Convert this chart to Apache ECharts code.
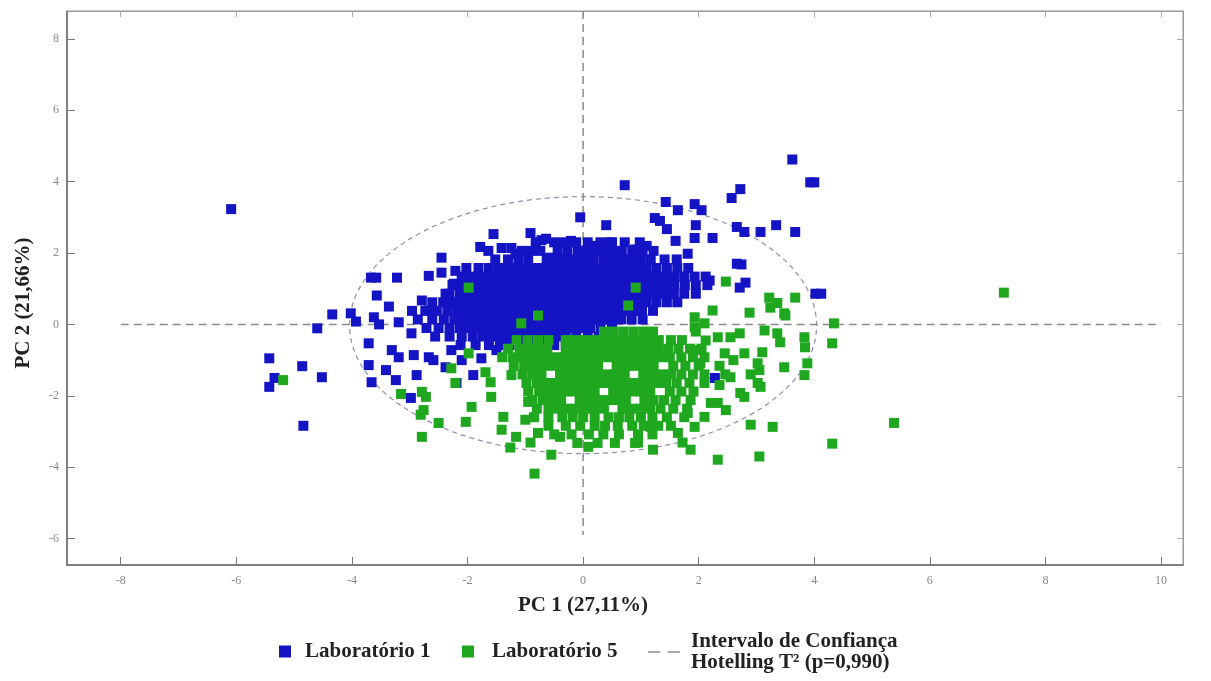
<!DOCTYPE html>
<html>
<head>
<meta charset="utf-8">
<script src="https://cdn.jsdelivr.net/npm/echarts@6/dist/echarts.min.js"></script>
<style>
  html, body { margin: 0; padding: 0; background: #fff; }
  #chart { width: 1211px; height: 681px; }
</style>
</head>
<body>
<div id="chart"></div>
<script>
// tick values
const xTicks = [-8, -6, -4, -2, 0, 2, 4, 6, 8, 10];
const yTicks = [-6, -4, -2, 0, 2, 4, 6, 8];

// Laboratório 1 - isolated points
const blueScatter = [
  [-6.09, 3.23], [-5.43, -0.95], [-5.43, -1.75], [-5.34, -1.5], [-4.86, -1.17], [-4.52, -1.48], [-4.84, -2.84],
  [-4.6, -0.11], [-4.34, 0.28], [-4.02, 0.31], [-3.93, 0.08], [-3.67, 1.31], [-3.58, 1.31], [-3.22, 1.31],
  [-3.57, 0.81], [-3.36, 0.5], [-3.62, 0.2], [-3.53, 0.0], [-3.19, 0.06], [-3.71, -0.53], [-2.97, -0.25],
  [-3.31, -0.72], [-3.19, -0.92], [-2.93, -0.86], [-2.67, -0.92], [-3.71, -1.14], [-3.41, -1.28], [-2.88, -1.42],
  [-3.66, -1.62], [-3.24, -1.56], [-2.98, -2.06], [-2.59, -1.0], [-2.38, -1.2], [-2.28, -0.72], [-2.19, -1.64],
  [-1.9, -1.42], [-2.1, -1.0], [-1.76, -0.95], [-1.5, -0.72], [-1.34, -0.5],
  [-2.45, 1.87], [-2.67, 1.36], [-2.45, 1.45], [-2.21, 1.5], [-2.79, 0.67], [-2.67, 0.39], [-2.38, 0.86], [-2.24, 1.14],
  [-1.55, 2.53], [-0.91, 2.56], [-0.64, 2.4], [-0.72, 2.36], [-1.78, 2.17], [-1.64, 2.06], [-1.41, 2.14],
  [-1.24, 2.14], [-1.17, 1.98], [-0.9, 2.06], [-0.57, 1.87], [-0.21, 2.34], [-0.09, 2.06], [-0.05, 3.0],
  [3.62, 4.62], [3.93, 3.98], [4.0, 3.98], [0.72, 3.9], [2.72, 3.79], [2.57, 3.54], [1.43, 3.43], [1.64, 3.2],
  [1.93, 3.37], [2.05, 3.2], [1.24, 2.98], [1.33, 2.9], [1.95, 2.78], [2.66, 2.73], [2.79, 2.59], [3.07, 2.59],
  [3.34, 2.78], [3.67, 2.59], [0.4, 2.78], [1.45, 2.67], [1.6, 2.34], [1.93, 2.42], [2.24, 2.42], [2.66, 1.7],
  [2.74, 1.68], [2.81, 1.17], [2.71, 1.03], [4.02, 0.86], [4.12, 0.86], [2.19, 1.23], [1.81, 1.98], [0.2, 2.2],
  [0.5, 2.3], [0.9, 2.1], [1.1, 2.2], [2.28, -1.5]
];

// Laboratório 1 - dense core, one list of x per row height
const blueRowY = [2.3, 2.06, 1.82, 1.58, 1.34, 1.1, 0.86, 0.62, 0.38, 0.14, -0.1, -0.34, -0.58];
const blueRowX = [
  [-0.82, -0.5, -0.34, -0.12, 0.08, 0.3, 0.46, 0.72, 0.98],
  [-1.06, -0.74, -0.44, -0.27, 0.0, 0.17, 0.33, 0.5, 0.67, 0.85, 1.03, 1.22],
  [-1.52, -1.3, -1.12, -0.95, -0.63, -0.46, -0.3, -0.14, 0.02, 0.18, 0.35, 0.51, 0.67, 0.83, 1.0, 1.17, 1.41, 1.62],
  [-2.02, -1.81, -1.63, -1.46, -1.3, -1.14, -0.98, -0.82, -0.66, -0.5, -0.34, -0.18, -0.02, 0.14, 0.3, 0.46, 0.62, 0.78, 0.94, 1.1, 1.27, 1.45, 1.63, 1.82],
  [-2.1, -1.94, -1.78, -1.62, -1.46, -1.3, -1.14, -0.98, -0.82, -0.66, -0.5, -0.34, -0.18, -0.02, 0.14, 0.3, 0.46, 0.62, 0.78, 0.94, 1.1, 1.26, 1.42, 1.58, 1.75, 1.93, 2.12],
  [-2.26, -2.1, -1.94, -1.78, -1.62, -1.46, -1.3, -1.14, -0.98, -0.82, -0.66, -0.5, -0.34, -0.18, -0.02, 0.14, 0.3, 0.46, 0.62, 0.78, 0.94, 1.1, 1.26, 1.42, 1.58, 1.76, 1.95, 2.15],
  [-2.31, -2.13, -1.96, -1.8, -1.64, -1.48, -1.32, -1.16, -1.0, -0.84, -0.68, -0.52, -0.36, -0.2, -0.04, 0.12, 0.28, 0.44, 0.6, 0.76, 0.92, 1.08, 1.24, 1.4, 1.57, 1.75, 1.95],
  [-2.61, -2.42, -2.26, -2.1, -1.94, -1.78, -1.62, -1.46, -1.3, -1.14, -0.98, -0.82, -0.66, -0.5, -0.34, -0.18, -0.02, 0.14, 0.3, 0.46, 0.62, 0.78, 0.94, 1.1, 1.27, 1.45, 1.63],
  [-2.96, -2.73, -2.53, -2.35, -2.18, -2.02, -1.86, -1.7, -1.54, -1.38, -1.22, -1.06, -0.9, -0.74, -0.58, -0.42, -0.26, -0.1, 0.06, 0.22, 0.38, 0.54, 0.7, 0.86, 1.02, 1.21],
  [-2.86, -2.61, -2.41, -2.23, -2.06, -1.9, -1.74, -1.58, -1.42, -1.26, -1.1, -0.94, -0.78, -0.62, -0.46, -0.3, -0.14, 0.02, 0.18, 0.34, 0.5, 0.66, 0.84, 1.03],
  [-2.71, -2.5, -2.31, -2.13, -1.96, -1.8, -1.64, -1.48, -1.32, -1.16, -1.0, -0.84, -0.68, -0.52, -0.36, -0.2, -0.04, 0.12, 0.3, 0.5],
  [-2.56, -2.31, -2.1, -1.91, -1.74, -1.58, -1.42, -1.26, -1.1, -0.94, -0.78, -0.62, -0.46, -0.3, -0.12, 0.08, 0.27],
  [-2.12, -1.86, -1.63, -1.44, -1.28, -1.1, -0.9, -0.7, -0.5, -0.3]
];

// Laboratório 5 - isolated points
const greenScatter = [
  [-5.19, -1.56], [-3.15, -1.95], [-2.72, -2.03], [-2.76, -2.4], [-2.79, -3.15], [-2.5, -2.76], [-2.03, -2.73],
  [-1.93, -2.31], [-1.59, -2.03], [-2.21, -1.64], [-1.98, -0.81], [-2.28, -1.23], [-2.79, -1.89], [-2.81, -2.53],
  [-1.6, -1.62], [-1.69, -1.34], [-1.38, -2.59], [-1.41, -2.95], [-1.26, -3.45], [-1.16, -3.15], [-1.0, -2.67],
  [-0.95, -2.17], [-0.78, -3.04], [-0.91, -3.31], [-0.55, -3.65], [-0.4, -3.15], [-0.84, -4.18], [-1.24, -1.42],
  [-0.78, 0.25], [-1.07, 0.03], [-1.98, 1.03], [0.91, 1.03], [0.78, 0.53],
  [2.47, 1.2], [3.22, 0.75], [3.36, 0.6], [3.67, 0.75], [2.88, 0.33], [2.24, 0.39], [3.48, 0.31], [3.24, 0.47],
  [3.5, 0.25], [3.36, -0.25], [3.41, -0.5], [3.83, -0.36], [3.88, -1.09], [3.83, -1.42], [3.48, -1.2], [3.1, -0.78],
  [3.05, -1.28], [3.07, -1.75], [2.72, -1.92], [2.55, -1.48], [2.45, -0.81], [2.55, -0.36], [2.71, -0.25],
  [1.93, -0.08], [1.93, 0.2], [2.12, -0.45], [2.03, -1.09], [2.21, -2.2], [2.47, -2.4], [2.9, -2.81], [3.28, -2.87],
  [2.33, -3.79], [3.05, -3.7], [1.81, -2.48], [1.93, -2.87], [1.86, -3.51], [1.72, -3.31], [1.21, -3.51],
  [0.95, -3.31], [0.09, -3.43], [1.17, -2.87], [1.64, -3.04], [3.14, -0.17], [2.79, -0.81], [3.02, -1.09],
  [2.36, -1.7], [2.79, -2.03], [2.33, -2.2], [2.1, -2.59], [2.33, -0.36], [2.1, 0.03], [2.0, -0.72], [3.02, -1.64],
  [2.6, -1.0], [2.9, -1.4], [3.84, -0.64],
  [7.28, 0.89], [4.34, 0.03], [4.31, -0.53], [4.31, -3.34], [5.38, -2.76]
];

// Laboratório 5 - dense core
const greenRowY = [-0.2, -0.44, -0.68, -0.92, -1.16, -1.4, -1.64, -1.88, -2.12, -2.36, -2.6, -2.84, -3.08, -3.32];
const greenRowX = [
  [0.36, 0.53, 0.7, 0.87, 1.04, 1.21, 1.95],
  [-1.15, -0.96, -0.78, -0.6, -0.3, -0.14, 0.02, 0.18, 0.34, 0.5, 0.66, 0.82, 0.98, 1.14, 1.31, 1.52, 1.71],
  [-1.3, -1.1, -0.94, -0.78, -0.62, -0.3, -0.14, 0.02, 0.18, 0.34, 0.5, 0.66, 0.82, 0.98, 1.14, 1.3, 1.47, 1.65, 1.85, 2.05],
  [-1.4, -1.22, -1.06, -0.9, -0.74, -0.58, -0.42, -0.26, -0.1, 0.06, 0.22, 0.38, 0.54, 0.7, 0.86, 1.02, 1.18, 1.34, 1.5, 1.7, 1.9, 2.1],
  [-1.2, -1.02, -0.86, -0.7, -0.54, -0.38, -0.22, -0.06, 0.1, 0.26, 0.58, 0.74, 0.9, 1.06, 1.22, 1.56, 1.77, 2.0, 2.36],
  [-1.05, -0.88, -0.72, -0.4, -0.24, -0.08, 0.08, 0.24, 0.4, 0.56, 0.72, 1.04, 1.2, 1.36, 1.52, 1.7, 1.9, 2.1, 2.46],
  [-0.98, -0.8, -0.64, -0.48, -0.32, -0.16, 0.0, 0.16, 0.32, 0.48, 0.64, 0.8, 0.96, 1.12, 1.28, 1.44, 1.62, 1.84, 2.1],
  [-0.95, -0.76, -0.6, -0.44, -0.28, -0.12, 0.04, 0.2, 0.52, 0.68, 0.84, 1.0, 1.16, 1.5, 1.7, 1.91],
  [-0.88, -0.7, -0.54, -0.38, -0.06, 0.1, 0.26, 0.42, 0.58, 0.74, 1.06, 1.22, 1.4, 1.6, 1.86],
  [-0.8, -0.6, -0.44, -0.28, -0.12, 0.04, 0.2, 0.36, 0.68, 0.84, 1.0, 1.16, 1.34, 1.56, 1.8],
  [-0.85, -0.6, -0.36, -0.18, 0.0, 0.2, 0.44, 0.62, 0.8, 1.0, 1.2, 1.45, 1.75],
  [-0.6, -0.3, -0.05, 0.2, 0.38, 0.6, 0.85, 1.05, 1.3, 1.52],
  [-0.5, -0.2, 0.1, 0.35, 0.62, 0.95, 1.2],
  [-0.1, 0.25, 0.55, 0.9]
];

// Hotelling T² ellipse: centre x, centre y, half width, half height
const ellipse = [[0, -0.02, 4.04, 3.6]];
// dashed reference lines through the origin
const hLine = [[-8, 0], [10, 0]];
const vLine = [[0, 8.78], [0, -5.9]];

const NAME1 = 'Laboratório 1';
const NAME5 = 'Laboratório 5';
const NAMEE = 'Intervalo de Confiança\nHotelling T² (p=0,990)';

function rows(ys, xs) {
  const out = [];
  xs.forEach(function (r, i) { r.forEach(function (x) { out.push([x, ys[i]]); }); });
  return out;
}
const blueData = blueScatter.concat(rows(blueRowY, blueRowX));
const greenData = greenScatter.concat(rows(greenRowY, greenRowX));

const serif = 'Liberation Serif';
const xMin = -8.93, xMax = 10.38, yMin = -6.74, yMax = 8.78;

const chart = echarts.init(document.getElementById('chart'));
chart.setOption({
  animation: false,
  backgroundColor: '#fff',
  grid: { left: 67, right: 28, top: 11, bottom: 116, show: true, borderColor: '#9a9a9a', borderWidth: 1 },
  legend: [
    { data: [NAME1], left: 279, top: 641, padding: 0, itemWidth: 12, itemHeight: 12, icon: 'rect',
      textStyle: { fontFamily: serif, fontWeight: 'bold', fontSize: 21, color: '#222', padding: [0, 0, 0, 9] } },
    { data: [NAME5], left: 462, top: 641, padding: 0, itemWidth: 12, itemHeight: 12, icon: 'rect',
      textStyle: { fontFamily: serif, fontWeight: 'bold', fontSize: 21, color: '#222', padding: [0, 0, 0, 13] } },
    { data: [{ name: NAMEE, icon: 'path://M0,0H12V1H0Z M19,0H31V1H19Z', itemStyle: { color: '#555' } }],
      left: 648, top: 631, padding: 0, itemWidth: 32, itemHeight: 2,
      textStyle: { fontFamily: serif, fontWeight: 'bold', fontSize: 21, lineHeight: 21, color: '#222', padding: [0, 0, 0, 6] } }
  ],
  xAxis: [
    {
      type: 'value', min: xMin, max: xMax, position: 'bottom',
      name: 'PC 1 (27,11%)', nameLocation: 'middle', nameGap: 30,
      nameTextStyle: { fontFamily: serif, fontWeight: 'bold', fontSize: 21, color: '#222', padding: [0, 84, 0, 0] },
      axisLine: { onZero: false, lineStyle: { color: '#666', width: 1.5 } },
      axisTick: { inside: true, length: 8, customValues: xTicks, lineStyle: { color: '#777' } },
      axisLabel: { customValues: xTicks, margin: 10, fontFamily: serif, fontSize: 12, color: '#888' },
      splitLine: { show: false }
    },
    {
      type: 'value', min: xMin, max: xMax, position: 'top',
      axisLine: { onZero: false, lineStyle: { color: '#9a9a9a', width: 1 } },
      axisTick: { inside: true, length: 6, customValues: xTicks, lineStyle: { color: '#aaa' } },
      axisLabel: { show: false }, splitLine: { show: false }
    }
  ],
  yAxis: [
    {
      type: 'value', min: yMin, max: yMax, position: 'left',
      name: 'PC 2 (21,66%)', nameLocation: 'middle', nameGap: 33, nameRotate: 90,
      nameTextStyle: { fontFamily: serif, fontWeight: 'bold', fontSize: 21, color: '#222', padding: [0, 30, 0, 0] },
      axisLine: { onZero: false, lineStyle: { color: '#666', width: 1.5 } },
      axisTick: { inside: true, length: 8, customValues: yTicks, lineStyle: { color: '#777' } },
      axisLabel: { customValues: yTicks, margin: 8, fontFamily: serif, fontSize: 12, color: '#888' },
      splitLine: { show: false }
    },
    {
      type: 'value', min: yMin, max: yMax, position: 'right',
      axisLine: { onZero: false, lineStyle: { color: '#9a9a9a', width: 1 } },
      axisTick: { inside: true, length: 6, customValues: yTicks, lineStyle: { color: '#aaa' } },
      axisLabel: { show: false }, splitLine: { show: false }
    }
  ],
  series: [
    {
      type: 'line', data: hLine, symbol: 'none', silent: true, z: 1,
      lineStyle: { color: '#8a8a8a', width: 1.5, type: [8, 5] }
    },
    {
      type: 'line', data: vLine, symbol: 'none', silent: true, z: 1,
      lineStyle: { color: '#8a8a8a', width: 1.5, type: [8, 5] }
    },
    {
      name: NAMEE, type: 'custom', data: ellipse, z: 1, silent: true,
      itemStyle: { color: '#555' },
      renderItem: function (params, api) {
        const c = api.coord([api.value(0), api.value(1)]);
        const s = api.size([api.value(2), api.value(3)]);
        return {
          type: 'ellipse',
          shape: { cx: c[0], cy: c[1], rx: s[0], ry: s[1] },
          style: { fill: null, stroke: '#8e8eb0', lineWidth: 1.2, lineDash: [5, 4] }
        };
      }
    },
    {
      name: NAME1, type: 'scatter', data: blueData, symbol: 'rect', symbolSize: 10, z: 2,
      itemStyle: { color: '#1414c4', opacity: 1 }
    },
    {
      name: NAME5, type: 'scatter', data: greenData, symbol: 'rect', symbolSize: 10, z: 3,
      itemStyle: { color: '#1fa81f', opacity: 1 }
    }
  ]
});
</script>
</body>
</html>
